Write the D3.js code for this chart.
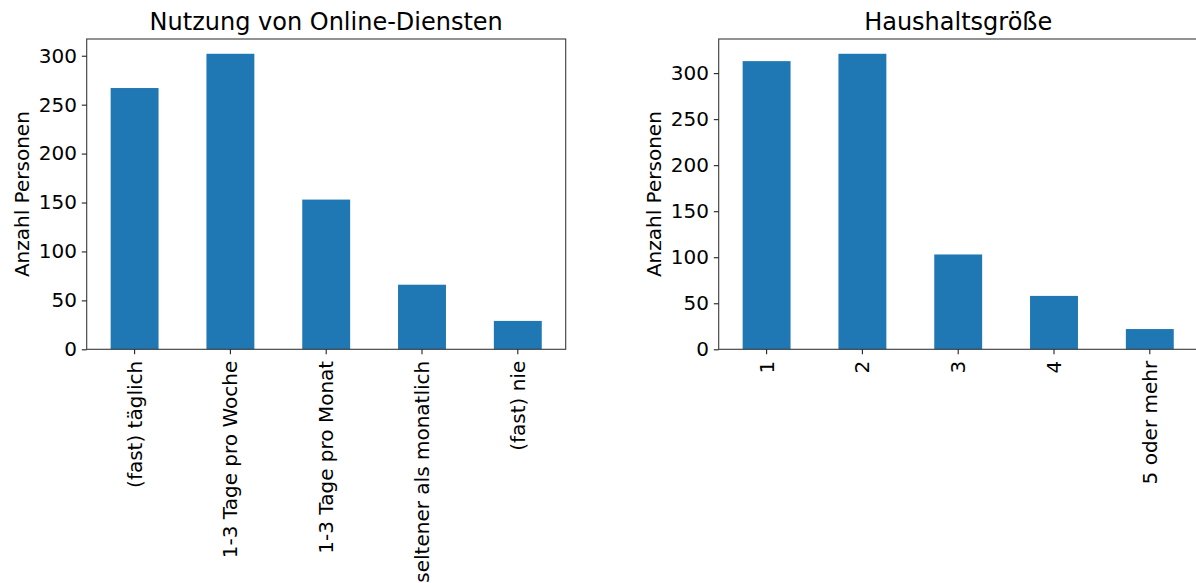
<!DOCTYPE html>
<html>
<head>
<meta charset="utf-8">
<script src="https://cdn.jsdelivr.net/npm/d3@7"></script>
<style>
  html, body { margin: 0; padding: 0; background: #fff; }
  svg { display: block; }
  text { font-family: "DejaVu Sans", sans-serif; fill: #000; }
</style>
</head>
<body>
<svg id="chart" width="1196" height="583"></svg>
<script>
// Nutzung von Online-Diensten
const usageCategories = ["(fast) täglich", "1-3 Tage pro Woche", "1-3 Tage pro Monat", "seltener als monatlich", "(fast) nie"];
const usageCounts = [267, 302, 153, 66, 29];

// Haushaltsgröße
const householdCategories = ["1", "2", "3", "4", "5 oder mehr"];
const householdCounts = [313, 321, 103, 58, 22];

const yTicks = [0, 50, 100, 150, 200, 250, 300];

const svg = d3.select("#chart");
const barColor = "#1f77b4";
const tickFont = 20;

function panel(opts) {
  const { left, top, width, height, categories, values, title, labelX } = opts;
  const g = svg.append("g").attr("transform", `translate(${left},${top})`);

  const x = d3.scaleBand()
    .domain(categories)
    .range([0, width])
    .paddingInner(0.5)
    .paddingOuter(0.25);

  const y = d3.scaleLinear()
    .domain([0, d3.max(values) * 1.05])
    .range([height, 0]);

  // bars
  g.selectAll("rect.bar")
    .data(values)
    .join("rect")
    .attr("class", "bar")
    .attr("x", (d, i) => x(categories[i]))
    .attr("y", d => y(d))
    .attr("width", x.bandwidth())
    .attr("height", d => height - y(d))
    .attr("fill", barColor);

  // frame
  g.append("rect")
    .attr("x", 0).attr("y", 0)
    .attr("width", width).attr("height", height)
    .attr("fill", "none")
    .attr("stroke", "#3a3a3a")
    .attr("stroke-width", 1.1);

  // y axis
  const yAxis = g.append("g")
    .call(d3.axisLeft(y).tickValues(yTicks).tickFormat(d3.format("d")).tickSize(4.9).tickSizeOuter(0).tickPadding(4.9));
  yAxis.select(".domain").remove();
  yAxis.selectAll("line").attr("stroke", "#222").attr("stroke-width", 1.1);
  yAxis.selectAll("text")
    .attr("font-family", "DejaVu Sans")
    .attr("font-size", tickFont)
    .attr("fill", "#000");

  // x axis with vertical labels
  const xAxis = g.append("g")
    .attr("transform", `translate(0,${height})`)
    .call(d3.axisBottom(x).tickSize(4.9).tickSizeOuter(0).tickPadding(0));
  xAxis.select(".domain").remove();
  xAxis.selectAll("line").attr("stroke", "#222").attr("stroke-width", 1.1);
  xAxis.selectAll("text")
    .attr("font-family", "DejaVu Sans")
    .attr("font-size", tickFont)
    .attr("fill", "#000")
    .attr("text-anchor", "end")
    .attr("dy", "0.35em")
    .attr("transform", "translate(0,11.5) rotate(-90)")
    .attr("x", 0)
    .attr("y", 0);

  // title
  g.append("text")
    .attr("x", width / 2)
    .attr("y", -9)
    .attr("text-anchor", "middle")
    .attr("font-size", 24)
    .text(title);

  // y label
  g.append("text")
    .attr("transform", `translate(${labelX},${height / 2}) rotate(-90)`)
    .attr("text-anchor", "middle")
    .attr("font-size", tickFont)
    .text("Anzahl Personen");
}

panel({
  left: 86.7, top: 39, width: 479, height: 310.3,
  categories: usageCategories, values: usageCounts,
  title: "Nutzung von Online-Diensten", labelX: -57.4
});

panel({
  left: 718.7, top: 39, width: 479, height: 310.3,
  categories: householdCategories, values: householdCounts,
  title: "Haushaltsgröße", labelX: -57.4
});
</script>
</body>
</html>
